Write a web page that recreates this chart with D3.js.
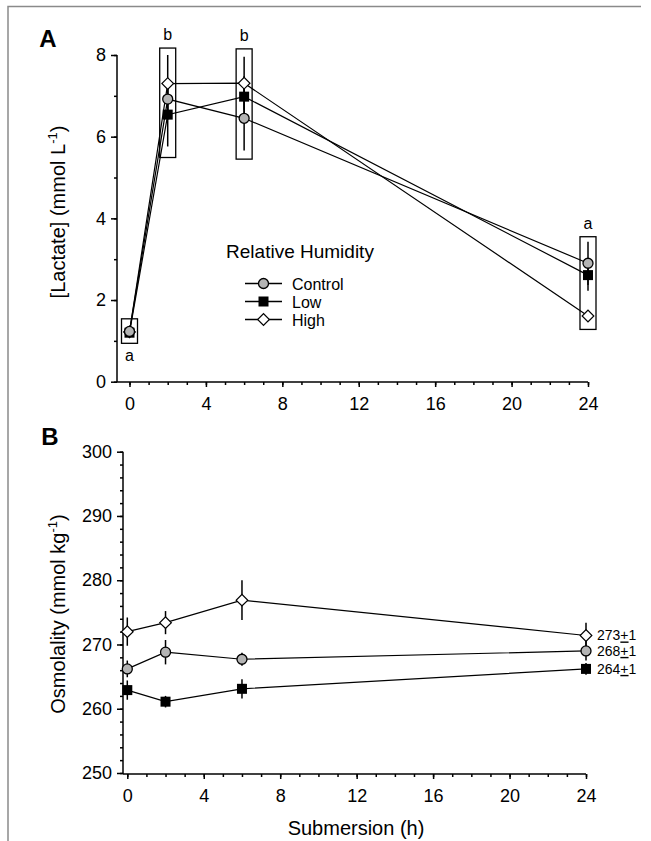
<!DOCTYPE html>
<html>
<head>
<meta charset="utf-8">
<script src="https://cdn.jsdelivr.net/npm/d3@7"></script>
<style>
  body { margin: 0; background: #fff; }
  text { font-family: "Liberation Sans", Arial, sans-serif; fill: #000; }
</style>
</head>
<body>
<div id="chart"></div>
<script>
// sampling times (h)
var times = [0, 2, 6, 24];

// panel A - lactate
var lacControl = [1.23, 6.92, 6.45, 2.90];
var lacControlErr = [0.10, 0.50, 0.79, 0.53];
var lacLow = [1.20, 6.54, 6.98, 2.61];
var lacLowErr = [0.10, 0.78, 0.50, 0.38];
var lacHigh = [1.22, 7.30, 7.31, 1.61];
var lacHighErr = [0.10, 0.70, 0.65, 0.10];
// grouping boxes + letters
var boxLow = [0.94, 5.49, 5.45, 1.28];
var boxHigh = [1.54, 8.17, 8.15, 3.55];
var boxLetters = ["a", "b", "b", "a"];

// panel B - osmolality
var osmControl = [266.2, 268.8, 267.7, 269.0];
var osmControlErr = [1.3, 1.9, 1.0, 1.5];
var osmLow = [262.9, 261.1, 263.1, 266.2];
var osmLowErr = [1.5, 0.9, 1.5, 0.9];
var osmHigh = [272.0, 273.4, 276.9, 271.4];
var osmHighErr = [2.2, 1.8, 3.1, 2.0];
var osmMeans = ["273", "268", "264"];   // High, Control, Low

var xTicks = [0, 4, 8, 12, 16, 20, 24];
var lacTicks = [0, 2, 4, 6, 8];
var osmTicks = [250, 260, 270, 280, 290, 300];

var seriesNames = ["Control", "Low", "High"];

var svg = d3.select("#chart").append("svg")
  .attr("width", 651).attr("height", 841);

// outer frame (top + left only)
svg.append("path").attr("d", "M8,841V6.5H641")
  .attr("fill", "none").attr("stroke", "#8a8a8a").attr("stroke-width", 1.5);

// markers
function drawMarker(g, kind, cx, cy) {
  if (kind == "Control") {
    g.append("circle").attr("cx", cx).attr("cy", cy).attr("r", 5)
      .attr("fill", "#b4b4b4").attr("stroke", "#000").attr("stroke-width", 1.3);
  } else if (kind == "Low") {
    g.append("rect").attr("x", cx - 5).attr("y", cy - 5).attr("width", 10).attr("height", 10)
      .attr("fill", "#000");
  } else {
    g.append("path").attr("d", d3.symbol(d3.symbolSquare, 68)())
      .attr("transform", "translate(" + cx + "," + cy + ") rotate(45)")
      .attr("fill", "#fff").attr("stroke", "#000").attr("stroke-width", 1.2);
  }
}

// axes with major/minor ticks, domain drawn by hand
function drawAxes(g, x, y, o) {
  var yAxis = d3.axisLeft(y).tickValues(o.yTicks).tickSize(6).tickSizeOuter(0).tickPadding(5);
  var yMinor = d3.axisLeft(y).tickValues(d3.range(o.yDom[0], o.yDom[1] + 0.001, o.yMinor))
    .tickSize(3).tickSizeOuter(0).tickFormat("");
  var xAxis = d3.axisBottom(x).tickValues(xTicks).tickSize(5).tickSizeOuter(0).tickPadding(10);
  var xMinor = d3.axisBottom(x).tickValues(d3.range(0, 25, 1)).tickSize(3).tickSizeOuter(0).tickFormat("");

  [yMinor, yAxis].forEach(function(a) {
    var ga = g.append("g").attr("transform", "translate(" + o.axisX + ",0)").call(a);
    ga.select(".domain").remove();
    ga.selectAll("line").attr("stroke-width", 1.5);
    ga.selectAll("text").attr("font-size", 18).attr("font-family", "Liberation Sans, Arial");
  });
  [xMinor, xAxis].forEach(function(a) {
    var ga = g.append("g").attr("transform", "translate(0," + o.axisY + ")").call(a);
    ga.select(".domain").remove();
    ga.selectAll("line").attr("stroke-width", 1.5);
    ga.selectAll("text").attr("font-size", 18).attr("font-family", "Liberation Sans, Arial");
  });
  g.append("line").attr("x1", o.axisX).attr("x2", o.axisX)
    .attr("y1", y(o.yDom[1])).attr("y2", o.axisY)
    .attr("stroke", "#000").attr("stroke-width", 1.5);
  g.append("line").attr("x1", o.axisX).attr("x2", x(24))
    .attr("y1", o.axisY).attr("y2", o.axisY)
    .attr("stroke", "#000").attr("stroke-width", 1.5);
}

function drawSeries(g, x, y, vals, errs, names) {
  var line = d3.line().x(function(d) { return x(d[0]); }).y(function(d) { return y(d[1]); });
  vals.forEach(function(v) {
    g.append("path").datum(times.map(function(t, i) { return [t, v[i]]; }))
      .attr("d", line).attr("fill", "none").attr("stroke", "#000").attr("stroke-width", 1.2);
  });
  vals.forEach(function(v, k) {
    times.forEach(function(t, i) {
      g.append("line").attr("x1", x(t)).attr("x2", x(t))
        .attr("y1", y(v[i] - errs[k][i])).attr("y2", y(v[i] + errs[k][i]))
        .attr("stroke", "#000").attr("stroke-width", 1.5);
    });
  });
  // draw back to front so Control ends on top where points overlap
  for (var k = vals.length - 1; k >= 0; k--) {
    times.forEach(function(t, i) {
      drawMarker(g, names[k], x(t), y(vals[k][i]));
    });
  }
}

// ---------- panel A ----------
var xA = d3.scaleLinear().domain([0, 24]).range([129.5, 588]);
var yA = d3.scaleLinear().domain([0, 8]).range([381.7, 55]);
var gA = svg.append("g");

drawAxes(gA, xA, yA, { yTicks: lacTicks, yDom: [0, 8], yMinor: 1, axisX: 117, axisY: 382 });

// grouping boxes
times.forEach(function(t, i) {
  gA.append("rect").attr("x", xA(t) - 8).attr("y", yA(boxHigh[i]))
    .attr("width", 16).attr("height", yA(boxLow[i]) - yA(boxHigh[i]))
    .attr("fill", "none").attr("stroke", "#000").attr("stroke-width", 1.3);
  var below = i == 0;
  gA.append("text").attr("x", xA(t)).attr("y", below ? yA(boxLow[i]) + 18 : yA(boxHigh[i]) - 8)
    .attr("text-anchor", "middle").attr("font-size", 16).text(boxLetters[i]);
});

drawSeries(gA, xA, yA, [lacControl, lacLow, lacHigh],
  [lacControlErr, lacLowErr, lacHighErr], seriesNames);

gA.append("text").attr("x", 48).attr("y", 47).attr("text-anchor", "middle")
  .attr("font-size", 24).attr("font-weight", "bold").text("A");

var tA = gA.append("text").attr("transform", "translate(65,212) rotate(-90)")
  .attr("text-anchor", "middle").attr("font-size", 20);
tA.append("tspan").text("[Lactate] (mmol L");
tA.append("tspan").attr("font-size", 13).attr("dy", -8).text("-1");
tA.append("tspan").attr("dy", 8).text(")");

// legend
gA.append("text").attr("x", 300).attr("y", 258).attr("text-anchor", "middle")
  .attr("font-size", 19).text("Relative Humidity");
seriesNames.forEach(function(n, i) {
  var ly = 283.5 + i * 18;
  gA.append("line").attr("x1", 245).attr("x2", 282).attr("y1", ly).attr("y2", ly)
    .attr("stroke", "#000").attr("stroke-width", 1.3);
  drawMarker(gA, n, 263.5, ly);
  gA.append("text").attr("x", 292).attr("y", ly + 6).attr("font-size", 16).text(n);
});

// ---------- panel B ----------
var xB = d3.scaleLinear().domain([0, 24]).range([127.3, 586]);
var yB = d3.scaleLinear().domain([250, 300]).range([773, 451.7]);
var gB = svg.append("g");

drawAxes(gB, xB, yB, { yTicks: osmTicks, yDom: [250, 300], yMinor: 2, axisX: 123, axisY: 774 });

drawSeries(gB, xB, yB, [osmControl, osmLow, osmHigh],
  [osmControlErr, osmLowErr, osmHighErr], seriesNames);

// end-of-line means
[osmHigh, osmControl, osmLow].forEach(function(v, i) {
  var t = gB.append("text").attr("x", xB(24) + 11).attr("y", yB(v[3]) + 5).attr("font-size", 14);
  t.append("tspan").text(osmMeans[i]);
  t.append("tspan").attr("text-decoration", "underline").text("+");
  t.append("tspan").text("1");
});

gB.append("text").attr("x", 50).attr("y", 445).attr("text-anchor", "middle")
  .attr("font-size", 24).attr("font-weight", "bold").text("B");

var tB = gB.append("text").attr("transform", "translate(65,614) rotate(-90)")
  .attr("text-anchor", "middle").attr("font-size", 20);
tB.append("tspan").text("Osmolality (mmol kg");
tB.append("tspan").attr("font-size", 13).attr("dy", -8).text("-1");
tB.append("tspan").attr("dy", 8).text(")");

gB.append("text").attr("x", 356).attr("y", 835).attr("text-anchor", "middle")
  .attr("font-size", 20).text("Submersion (h)");
</script>
</body>
</html>
